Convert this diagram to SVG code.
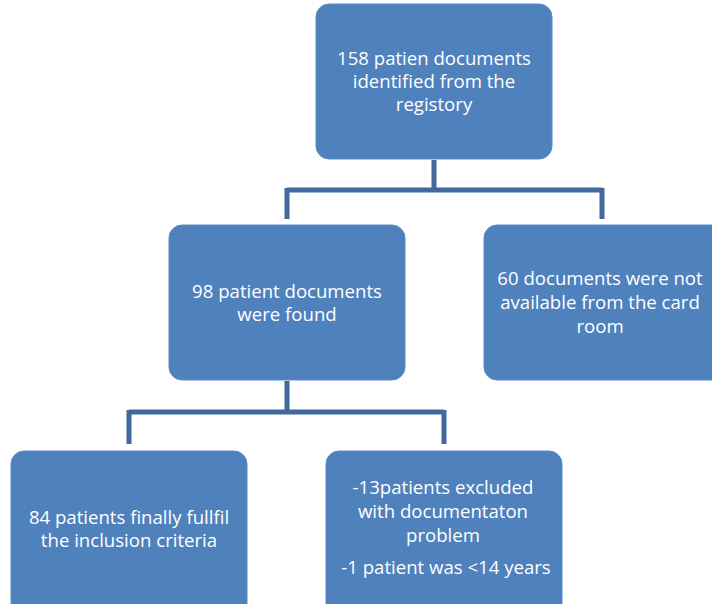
<svg xmlns="http://www.w3.org/2000/svg" width="712" height="604" viewBox="0 0 712 604">
<style>
.box{fill:#4F81BD;stroke:#5B8CC6;stroke-width:1}
.t{fill:#FFFFFF;font-family:"Open Sans","Liberation Sans",sans-serif;font-size:18.6px;text-anchor:middle}
.c{fill:none;stroke:#41699B;stroke-width:5}
</style>
<rect width="712" height="604" fill="#FFFFFF"/>
<g id="connectors">
<path class="c" d="M434,160 V190 M287,190 H602 M287,188 V219 M602,188 V219"/>
<path class="c" d="M287,381 V412 M129,412 H444 M129,410 V444 M444,410 V444"/>
</g>
<g id="n1">
<rect class="box" x="316" y="4" width="236" height="155" rx="13"/>
<text class="t" x="434" y="65">158 patien documents</text>
<text class="t" x="434" y="88">identified from the</text>
<text class="t" x="434" y="111">registory</text>
</g>
<g id="n2">
<rect class="box" x="169" y="225" width="236" height="155" rx="13"/>
<text class="t" x="287" y="298">98 patient documents</text>
<text class="t" x="287" y="321">were found</text>
</g>
<g id="n3">
<rect class="box" x="484" y="225" width="240" height="155" rx="13"/>
<text class="t" x="600" y="285">60 documents were not</text>
<text class="t" x="600" y="309">available from the card</text>
<text class="t" x="600" y="333">room</text>
</g>
<g id="n4">
<rect class="box" x="11" y="451" width="236" height="165" rx="13"/>
<text class="t" x="129" y="524">84 patients finally fullfil</text>
<text class="t" x="129" y="547">the inclusion criteria</text>
</g>
<g id="n5">
<rect class="box" x="326" y="451" width="236" height="165" rx="13"/>
<text class="t" x="443" y="494">-13patients excluded</text>
<text class="t" x="443" y="518">with documentaton</text>
<text class="t" x="443" y="542">problem</text>
<text class="t" x="446" y="574">-1 patient was &lt;14 years</text>
</g>
</svg>
